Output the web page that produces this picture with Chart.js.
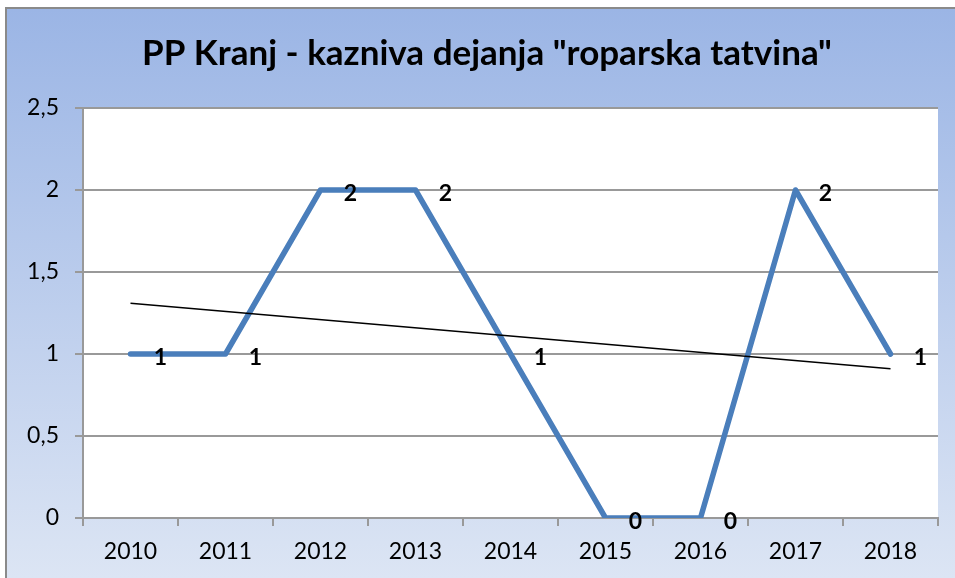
<!DOCTYPE html>
<html>
<head>
<meta charset="utf-8">
<script src="https://cdn.jsdelivr.net/npm/chart.js@4/dist/chart.umd.min.js"></script>
<style>
  html, body { margin: 0; padding: 0; background: #fff; }
  #wrap { width: 955px; height: 578px; position: relative; }
</style>
</head>
<body>
<div id="wrap"><canvas id="graph" width="955" height="578"></canvas></div>
<script>
var years = ['2010', '2011', '2012', '2013', '2014', '2015', '2016', '2017', '2018'];
var counts = [1, 1, 2, 2, 1, 0, 0, 2, 1]; // roparska tatvina
var trend = [1.31, null, null, null, null, null, null, null, 0.91]; // linearni trend (konci)
var yTicks = [0, 0.5, 1, 1.5, 2, 2.5];

var cvs = document.getElementById('graph');
var ctx = cvs.getContext('2d');
var fontName = 'Lato, "Open Sans", sans-serif';

// ozadje okvirja z gradientom
var frame = {
  id: 'frame',
  afterLayout: function (chart) {
    // naslov centriran na okvir, ne na celotno platno
    if (chart.titleBlock) chart.titleBlock.left += 36;
  },
  beforeDraw: function (chart) {
    var c = chart.ctx;
    c.save();
    c.fillStyle = '#fff';
    c.fillRect(0, 0, chart.width, chart.height);
    var g = c.createLinearGradient(0, 9, 0, chart.height);
    g.addColorStop(0, '#9bb5e5');
    g.addColorStop(1, '#dce5f4');
    c.fillStyle = g;
    c.fillRect(7, 9, chart.width, chart.height);
    c.strokeStyle = '#8a8a8a';
    c.lineWidth = 2;
    c.beginPath();
    c.moveTo(6, chart.height);
    c.lineTo(6, 8);
    c.lineTo(chart.width, 8);
    c.stroke();
    var a = chart.chartArea;
    c.fillStyle = '#fff';
    c.fillRect(a.left, a.top, a.right - a.left, a.bottom - a.top);
    c.restore();
  }
};

// oznake vrednosti desno od tock
var valueLabels = {
  id: 'valueLabels',
  afterDatasetsDraw: function (chart) {
    var c = chart.ctx;
    var meta = chart.getDatasetMeta(1);
    c.save();
    c.font = 'bold 23px ' + fontName;
    c.fillStyle = '#000';
    c.textAlign = 'center';
    c.textBaseline = 'middle';
    meta.data.forEach(function (pt, i) {
      c.fillText(String(counts[i]), pt.x + 30, pt.y + 4);
    });
    c.restore();
  }
};

var chart = new Chart(ctx, {
  type: 'line',
  data: {
    labels: years,
    datasets: [{
      label: 'trend',
      data: trend,
      borderColor: '#000',
      borderWidth: 1.5,
      pointRadius: 0,
      spanGaps: true,
      tension: 0,
      order: 0
    }, {
      label: 'roparska tatvina',
      data: counts,
      borderColor: '#4a7ebb',
      borderWidth: 5.5,
      borderCapStyle: 'round',
      borderJoinStyle: 'round',
      pointRadius: 0,
      tension: 0,
      order: 1
    }]
  },
  options: {
    responsive: false,
    animation: false,
    layout: { padding: { left: 0, right: 17, top: 0, bottom: 0 } },
    plugins: {
      legend: { display: false },
      tooltip: { enabled: false },
      title: {
        display: true,
        text: 'PP Kranj - kazniva dejanja "roparska tatvina"',
        color: '#000',
        font: { family: fontName, size: 35, weight: 'bold' },
        padding: { top: 33, bottom: 33 }
      }
    },
    scales: {
      x: {
        offset: true,
        grid: { offset: true, drawOnChartArea: false, color: '#999', lineWidth: 2, tickLength: 8 },
        border: { color: '#999', width: 2 },
        ticks: { color: '#000', font: { family: fontName, size: 23 }, padding: 12 },
        afterFit: function (s) { s.height = 60; }
      },
      y: {
        min: 0,
        max: 2.5,
        afterBuildTicks: function (s) { s.ticks = yTicks.map(function (v) { return { value: v }; }); },
        grid: { color: '#999', lineWidth: 2, tickLength: 8 },
        border: { color: '#999', width: 2 },
        ticks: {
          color: '#000',
          font: { family: fontName, size: 23 },
          padding: 16,
          callback: function (v) { return String(v).replace('.', ','); }
        },
        afterFit: function (s) { s.width = 83; }
      }
    }
  },
  plugins: [frame, valueLabels]
});
</script>
</body>
</html>
